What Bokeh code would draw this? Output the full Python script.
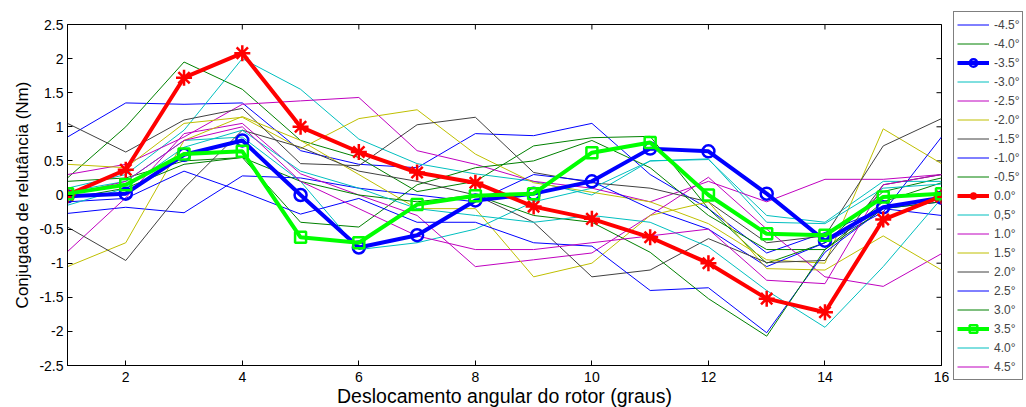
import math
from bokeh.plotting import figure
from bokeh.models import Legend, LegendItem, FixedTicker, Range1d
from bokeh.embed import file_html
from bokeh.resources import INLINE

# ---------------- data ----------------
x_pos = list(range(1, 17))

series_labels = ["-4.5°", "-4.0°", "-3.5°", "-3.0°", "-2.5°", "-2.0°", "-1.5°", "-1.0°", "-0.5°",
                 "0.0°", "0,5°", "1.0°", "1.5°", "2.0°", "2.5°", "3.0°", "3.5°", "4.0°", "4.5°"]

s_m45 = [0.85, 1.35, 1.33, 1.35, 0.65, 0.45, 0.40, 0.90, 0.87, 1.05, 0.30, -0.20, -0.85, -0.55, -0.20, -0.10]
s_m40 = [0.25, 1.00, 1.95, 1.55, 0.80, 0.55, 0.05, 0.20, 0.72, 0.84, 0.86, -0.20, -1.00, -0.70, 0.05, 0.25]
s_m35 = [-0.02, 0.02, 0.59, 0.80, 0.00, -0.77, -0.59, -0.08, 0.02, 0.20, 0.68, 0.64, 0.02, -0.67, -0.18, -0.04]
s_m30 = [0.10, 0.30, 0.95, 2.00, 1.55, 0.82, 0.46, 0.31, 0.20, 0.00, 0.50, 0.52, -0.30, -0.40, 0.20, 0.20]
s_m25 = [0.30, 0.45, 0.85, 1.33, 1.38, 1.43, 0.65, 0.45, 0.20, 0.10, -0.10, 0.20, -0.10, 0.23, 0.23, 0.30]
s_m20 = [0.45, 0.40, 1.05, 1.14, 0.68, 1.12, 1.25, 0.60, 0.18, 0.04, -0.10, -0.42, -0.95, -1.00, 0.97, 0.46]
s_m15 = [1.05, 0.63, 1.10, 1.27, 0.46, 0.43, 1.03, 1.14, 0.33, 0.18, 0.10, -0.10, -0.70, -0.60, 0.72, 1.12]
s_m10 = [-0.27, -0.18, -0.26, 0.28, 0.25, 0.10, 0.00, -0.10, 0.30, 0.20, -0.20, -0.50, -1.05, -0.70, -0.25, 0.85]
s_m05 = [0.20, 0.25, 0.50, 0.55, -0.40, -0.47, 0.15, 0.40, 0.50, 0.80, 0.40, -0.30, -0.80, -0.80, -0.10, 0.18]
s_00 = [0.00, 0.37, 1.72, 2.08, 1.00, 0.63, 0.33, 0.18, -0.17, -0.35, -0.62, -1.00, -1.52, -1.72, -0.36, -0.02]
s_05 = [0.05, 0.20, 0.80, 0.85, 0.20, -0.80, -0.70, -0.50, -0.10, 0.10, 0.50, 0.53, -0.40, -0.42, 0.10, 0.16]
s_10 = [-0.83, -0.04, 0.90, 1.05, 0.31, 0.00, -0.30, -1.05, -0.95, -0.85, -0.30, 0.26, -0.50, -1.20, -1.34, -0.86]
s_15 = [-1.05, -0.70, 0.80, 1.15, 0.80, 0.30, -0.20, -0.20, -1.20, -1.00, -0.30, -0.10, -1.08, -1.10, -0.60, -1.10]
s_20 = [-0.47, -0.96, 0.10, 0.95, 0.70, 0.35, 0.20, 0.00, -0.40, -1.20, -1.10, -0.64, -0.99, -0.96, 0.15, 0.30]
s_25 = [-0.10, -0.05, 0.35, 0.05, -0.28, -0.05, -0.40, -0.40, -0.70, -0.75, -1.40, -1.36, -2.02, -0.84, -0.20, -0.30]
s_30 = [-0.05, 0.10, 0.45, 0.55, 0.20, 0.00, -0.10, 0.00, -0.30, -0.40, -0.84, -1.52, -2.07, -0.80, -0.20, -0.10]
s_35 = [0.02, 0.15, 0.60, 0.64, -0.62, -0.70, -0.14, -0.01, 0.02, 0.62, 0.77, 0.00, -0.57, -0.59, -0.03, 0.02]
s_40 = [-0.15, 0.10, 0.70, 0.95, 0.35, 0.10, -0.20, -0.30, -0.40, -0.30, -0.40, -0.76, -1.40, -1.94, -1.05, -0.05]
s_45 = [0.00, 0.20, 0.80, 1.00, 0.20, -0.20, -0.60, -0.80, -0.80, -0.70, -0.60, -0.50, -1.25, -1.30, 0.15, 0.30]

all_series = [s_m45, s_m40, s_m35, s_m30, s_m25, s_m20, s_m15, s_m10, s_m05,
              s_00, s_05, s_10, s_15, s_20, s_25, s_30, s_35, s_40, s_45]

x_ticks = [2, 4, 6, 8, 10, 12, 14, 16]
x_tick_labels = ["2", "4", "6", "8", "10", "12", "14", "16"]
y_ticks = [-2.5, -2.0, -1.5, -1.0, -0.5, 0.0, 0.5, 1.0, 1.5, 2.0, 2.5]
y_tick_labels = ["-2.5", "-2", "-1.5", "-1", "-0.5", "0", "0.5", "1", "1.5", "2", "2.5"]
x_min, x_max = 1, 16
y_min, y_max = -2.5, 2.5

# ---------------- styles ----------------
BLUE, GREEN, CYAN, MAG, OLIVE, GRAY = "#0000FF", "#008000", "#00BFBF", "#BF00BF", "#BFBF00", "#404040"
colors = [BLUE, GREEN, "#0000FF", CYAN, MAG, OLIVE, GRAY, BLUE, GREEN,
          "#FF0000", CYAN, MAG, OLIVE, GRAY, BLUE, GREEN, "#00FF00", CYAN, MAG]
special = {2: ("circle", 12), 9: ("asterisk", 16), 16: ("square", 11)}

FONT = "Liberation Sans"

p = figure(frame_width=874, frame_height=341, output_backend="svg", toolbar_location=None,
           x_range=Range1d(x_min, x_max), y_range=Range1d(y_min, y_max),
           min_border_left=67, min_border_right=85, min_border_top=24, min_border_bottom=42,
           x_axis_label="Deslocamento angular do rotor (graus)",
           y_axis_label="Conjugado de relutância (Nm)")
p.xgrid.visible = False
p.ygrid.visible = False
p.outline_line_color = "black"
p.outline_line_width = 1
p.background_fill_color = "white"
p.border_fill_color = "white"

p.xaxis.ticker = FixedTicker(ticks=x_ticks)
p.xaxis.major_label_overrides = dict(zip(x_ticks, x_tick_labels))
p.yaxis.ticker = FixedTicker(ticks=y_ticks)
p.yaxis.major_label_overrides = dict(zip(y_ticks, y_tick_labels))

for ax in (p.xaxis[0], p.yaxis[0]):
    ax.major_tick_in = 5
    ax.major_tick_out = 0
    ax.minor_tick_line_color = None
    ax.axis_line_color = "black"
    ax.major_tick_line_color = "black"
    ax.major_label_text_font = FONT
    ax.major_label_text_font_size = "14px"
    ax.major_label_text_color = "black"
    ax.axis_label_text_font = FONT
    ax.axis_label_text_font_style = "normal"
    ax.axis_label_text_color = "black"
p.xaxis.axis_label_text_font_size = "19.5px"
p.yaxis.axis_label_text_font_size = "17px"
p.xaxis.major_label_standoff = 6
p.xaxis.axis_label_standoff = 0
p.yaxis.major_label_standoff = 4
p.yaxis.axis_label_standoff = 4

# inner tick marks on the top and right edges (half of each dash is clipped by the frame)
p.scatter(x_ticks, [y_max] * len(x_ticks), marker="dash", angle=math.pi / 2, size=10,
          line_color="black", line_width=1)
p.scatter([x_max] * len(y_ticks), y_ticks, marker="dash", size=10,
          line_color="black", line_width=1)

renderers = [None] * len(all_series)
order = [i for i in range(len(all_series)) if i not in special] + [2, 9, 16]
for i in order:
    ys = all_series[i]
    if i in special:
        mk, sz = special[i]
        ln = p.line(x_pos, ys, line_color=colors[i], line_width=4)
        sc = p.scatter(x_pos, ys, marker=mk, size=sz, line_color=colors[i], line_width=2.5,
                       fill_color=None)
        renderers[i] = [ln, sc]
    else:
        ln = p.line(x_pos, ys, line_color=colors[i], line_width=1)
        renderers[i] = [ln]

items = [LegendItem(label=series_labels[i], renderers=renderers[i]) for i in range(len(all_series))]
legend = Legend(items=items, location=(12, -15), orientation="vertical",
                glyph_width=32, glyph_height=19, label_height=19, spacing=0,
                padding=3, margin=0, label_standoff=5,
                label_text_font=FONT, label_text_font_size="12px",
                border_line_color="black", border_line_width=1,
                background_fill_color="white", background_fill_alpha=1.0)
p.add_layout(legend, "right")

open("out.html", "w").write(file_html(p, INLINE))
